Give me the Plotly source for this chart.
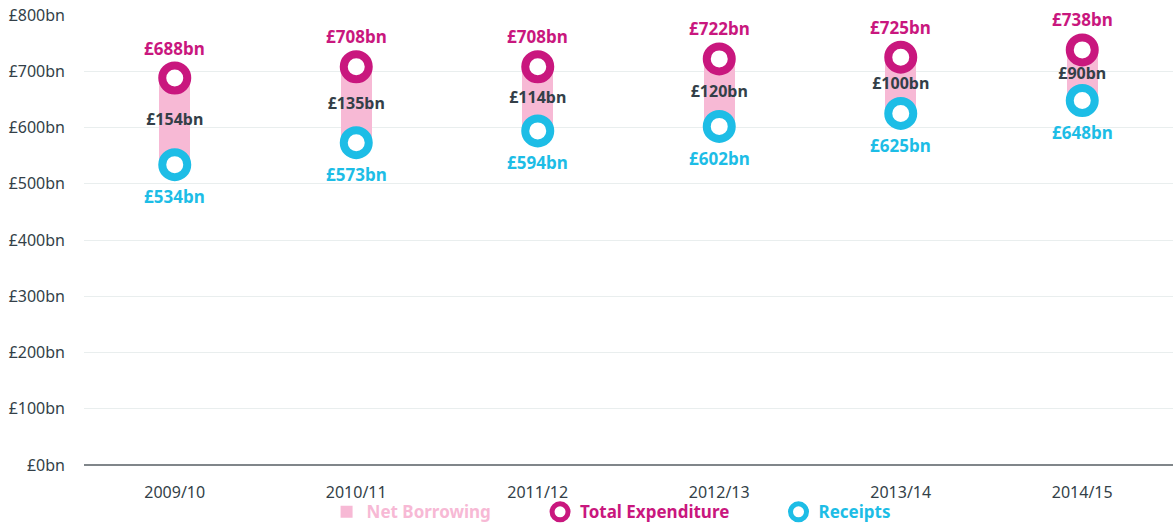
import plotly.graph_objects as go

years = ["2009/10", "2010/11", "2011/12", "2012/13", "2013/14", "2014/15"]
expenditure = [688, 708, 708, 722, 725, 738]
receipts = [534, 573, 594, 602, 625, 648]
net_borrowing = [154, 135, 114, 120, 100, 90]
y_ticks = [0, 100, 200, 300, 400, 500, 600, 700, 800]
y_tick_labels = ["£%dbn" % v for v in y_ticks]

MAGENTA = "#C9177E"
CYAN = "#1DBDE6"
PINK = "#F7B9D5"
DARK = "#333F48"
FONT = "Noto Sans"
PAD = "&nbsp;" * 10

fig = go.Figure()

fig.add_trace(go.Bar(
    x=years, y=net_borrowing, base=receipts,
    marker=dict(color=PINK, line=dict(width=0)),
    width=0.17,
    name="<b><span style='color:%s'>Net Borrowing</span></b>%s" % (PINK, PAD),
    hoverinfo="skip",
))

mid = [(e + r) / 2 for e, r in zip(expenditure, receipts)]
fig.add_trace(go.Scatter(
    x=years, y=mid, mode="text",
    text=["£%dbn" % v for v in net_borrowing],
    textfont=dict(family=FONT, size=16, color=DARK, weight="bold"),
    showlegend=False, hoverinfo="skip",
))

fig.add_trace(go.Scatter(
    x=years, y=expenditure, mode="markers",
    marker=dict(size=25, color="white", line=dict(color=MAGENTA, width=8)),
    name="<b><span style='color:%s'>Total Expenditure</span></b>%s" % (MAGENTA, PAD),
))
fig.add_trace(go.Scatter(
    x=years, y=receipts, mode="markers",
    marker=dict(size=25, color="white", line=dict(color=CYAN, width=8)),
    name="<b><span style='color:%s'>Receipts</span></b>" % CYAN,
))

for x, e, r in zip(years, expenditure, receipts):
    fig.add_annotation(x=x, y=e, text="<b>£%dbn</b>" % e, showarrow=False,
                       yshift=30, font=dict(family=FONT, size=17, color=MAGENTA))
    fig.add_annotation(x=x, y=r, text="<b>£%dbn</b>" % r, showarrow=False,
                       yshift=-32, font=dict(family=FONT, size=17, color=CYAN))

fig.update_layout(
    width=1173, height=531,
    margin=dict(l=84, r=0, t=15, b=66),
    plot_bgcolor="white", paper_bgcolor="white",
    font=dict(family=FONT, size=15, color=DARK),
    bargap=0,
    legend=dict(orientation="h", x=0.484, xanchor="center", y=-0.145, yanchor="bottom",
                bgcolor="rgba(0,0,0,0)",
                font=dict(family=FONT, size=17), itemclick=False),
    xaxis=dict(range=[-0.5, 5.5], showgrid=False, ticks="", showline=False,
               automargin=False, ticklabelstandoff=16,
               tickfont=dict(family=FONT, size=16, color=DARK)),
    yaxis=dict(range=[0, 800], tickvals=y_ticks, ticktext=y_tick_labels,
               showgrid=True, gridcolor="#E9EEEE", gridwidth=1,
               zeroline=True, zerolinecolor="#80868A", zerolinewidth=2,
               ticks="", ticklabelstandoff=18, automargin=False,
               tickfont=dict(family=FONT, size=16, color=DARK)),
)

post = (
    "var gd=document.getElementById('{plot_id}');"
    "var w=gd.parentElement;w.style.height='531px';w.style.overflow='hidden';"
    "document.body.style.margin='0';document.body.style.overflow='hidden';"
    "document.documentElement.style.overflow='hidden';"
)
fig.write_html("out.html", post_script=post, config={"displayModeBar": False})
